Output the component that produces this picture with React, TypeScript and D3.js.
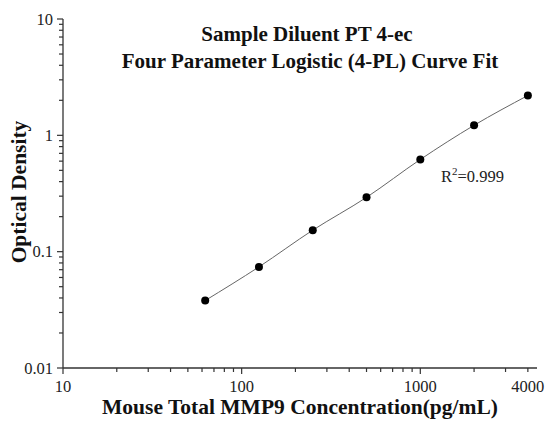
import React, { useRef, useEffect } from "react";
import * as d3 from "d3";

const concentrations = [62.5, 125, 250, 500, 1000, 2000, 4000];
const opticalDensity = [0.038, 0.074, 0.153, 0.293, 0.62, 1.22, 2.2];
const xTickLabels = [10, 100, 1000, 4000];
const yTickLabels = [0.01, 0.1, 1, 10];
const titleLines = ["Sample Diluent PT 4-ec", "Four Parameter Logistic (4-PL) Curve Fit"];

const App = () => {
  const svgRef = useRef<SVGSVGElement>(null);

  useEffect(() => {
    const width = 546;
    const height = 421;
    const marginLeft = 63;
    const marginTop = 19;
    const plotRight = 537;
    const plotBottom = 368;
    const font = "'Liberation Serif', 'Times New Roman', serif";

    const svg = d3.select(svgRef.current).attr("width", width).attr("height", height);
    svg.selectAll("*").remove();

    svg.append("rect").attr("width", width).attr("height", height).attr("fill", "#fff");

    const x = d3.scaleLog().domain([10, 4500]).range([marginLeft, plotRight]);
    const y = d3.scaleLog().domain([0.01, 10]).range([plotBottom, marginTop]);

    // minor ticks for log axes
    const xMinor: number[] = [];
    for (let dec = 10; dec < 4500; dec *= 10) {
      for (let k = 2; k <= 9; k++) if (dec * k <= 4500) xMinor.push(dec * k);
    }
    const yMinor: number[] = [];
    for (let dec = 0.01; dec < 10; dec *= 10) {
      for (let k = 2; k <= 9; k++) yMinor.push(dec * k);
    }

    const axisColor = "#333";

    // --- X axis ---
    const gx = svg.append("g");
    gx.append("line")
      .attr("x1", marginLeft).attr("x2", plotRight)
      .attr("y1", plotBottom).attr("y2", plotBottom)
      .attr("stroke", axisColor).attr("stroke-width", 1.3);
    gx.selectAll(".minor").data(xMinor).join("line")
      .attr("x1", (d) => x(d)).attr("x2", (d) => x(d))
      .attr("y1", plotBottom).attr("y2", plotBottom + 4)
      .attr("stroke", axisColor).attr("stroke-width", 1.2);
    gx.selectAll(".major").data([10, 100, 1000]).join("line")
      .attr("x1", (d) => x(d)).attr("x2", (d) => x(d))
      .attr("y1", plotBottom).attr("y2", plotBottom + 6)
      .attr("stroke", axisColor).attr("stroke-width", 1.2);
    gx.selectAll("text").data(xTickLabels).join("text")
      .attr("x", (d) => x(d)).attr("y", plotBottom + 24)
      .attr("text-anchor", "middle")
      .attr("font-family", font).attr("font-size", 16.5).attr("fill", "#222")
      .text((d) => String(d));

    // --- Y axis ---
    const gy = svg.append("g");
    gy.append("line")
      .attr("x1", marginLeft).attr("x2", marginLeft)
      .attr("y1", marginTop).attr("y2", plotBottom)
      .attr("stroke", axisColor).attr("stroke-width", 1.3);
    gy.selectAll(".minor").data(yMinor).join("line")
      .attr("x1", marginLeft - 4).attr("x2", marginLeft)
      .attr("y1", (d) => y(d)).attr("y2", (d) => y(d))
      .attr("stroke", axisColor).attr("stroke-width", 1.2);
    gy.selectAll(".major").data(yTickLabels).join("line")
      .attr("x1", marginLeft - 6).attr("x2", marginLeft)
      .attr("y1", (d) => y(d)).attr("y2", (d) => y(d))
      .attr("stroke", axisColor).attr("stroke-width", 1.2);
    gy.selectAll("text").data(yTickLabels).join("text")
      .attr("x", marginLeft - 10).attr("y", (d) => y(d) + 5.5)
      .attr("text-anchor", "end")
      .attr("font-family", font).attr("font-size", 16.5).attr("fill", "#222")
      .text((d) => String(d));

    // --- Titles ---
    svg.append("g").selectAll("text").data(titleLines).join("text")
      .attr("x", (_d, i) => (i === 0 ? 307 : 310)).attr("y", (_d, i) => 41 + i * 27)
      .attr("text-anchor", "middle")
      .attr("font-family", font).attr("font-size", 21).attr("font-weight", "bold")
      .attr("fill", "#111")
      .text((d) => d);

    svg.append("text")
      .attr("x", 300).attr("y", 414)
      .attr("text-anchor", "middle")
      .attr("font-family", font).attr("font-size", 21.5).attr("font-weight", "bold")
      .attr("fill", "#111")
      .text("Mouse Total MMP9 Concentration(pg/mL)");

    svg.append("text")
      .attr("transform", "translate(26,192) rotate(-90)")
      .attr("text-anchor", "middle")
      .attr("font-family", font).attr("font-size", 21.5).attr("font-weight", "bold")
      .attr("fill", "#111")
      .text("Optical Density");

    // --- Fit curve ---
    const pts = concentrations.map((c, i) => ({ c, v: opticalDensity[i] }));
    const line = d3.line<{ c: number; v: number }>()
      .x((d) => x(d.c))
      .y((d) => y(d.v))
      .curve(d3.curveMonotoneX);
    svg.append("path")
      .datum(pts)
      .attr("fill", "none")
      .attr("stroke", "#666")
      .attr("stroke-width", 1)
      .attr("d", line);

    // --- Points ---
    svg.append("g").selectAll("circle").data(pts).join("circle")
      .attr("cx", (d) => x(d.c))
      .attr("cy", (d) => y(d.v))
      .attr("r", 4)
      .attr("fill", "#000");

    // --- R² annotation ---
    const r2 = svg.append("text")
      .attr("x", 441).attr("y", 182)
      .attr("font-family", font).attr("font-size", 16.5).attr("fill", "#222");
    r2.append("tspan").text("R");
    r2.append("tspan").attr("font-size", 11).attr("dy", -7).text("2");
    r2.append("tspan").attr("dy", 7).text("=0.999");
  }, []);

  return (
    <div style={{ position: "absolute", left: 0, top: 0 }}>
      <svg ref={svgRef}></svg>
    </div>
  );
};

export default App;
